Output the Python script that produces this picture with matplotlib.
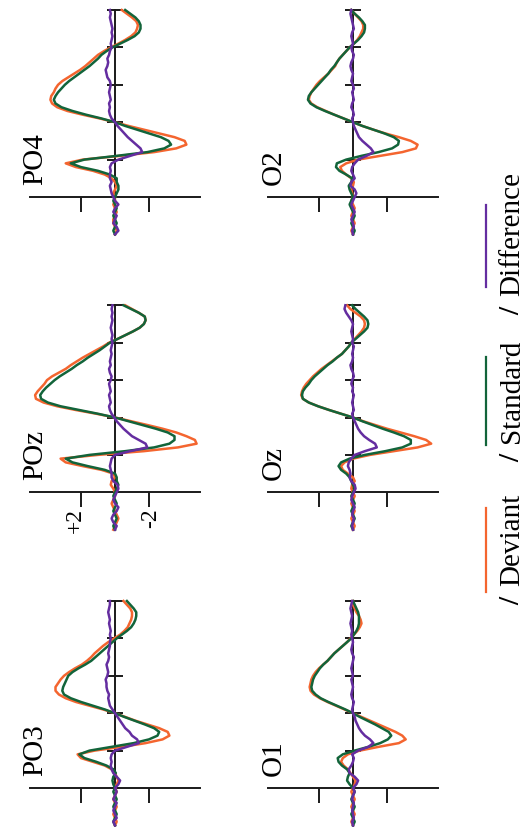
import numpy as np
import matplotlib
matplotlib.use('Agg')
import matplotlib.pyplot as plt

plt.rcParams['font.family'] = ['Liberation Serif', 'DejaVu Serif']

# time in ms, amplitude in microvolts (positive drawn to the left)
times = np.arange(-100, 501, 10)

dev_po4 = [0.0, -0.1, 0.0, 0.1, 0.1, 0.0, -0.1, 0.0, 0.1, 0.0,
           0.0, 0.1, 0.0, -0.1, 0.0, 0.2, 0.6, 1.3, 2.3, 2.9,
           1.9, -0.3, -2.3, -3.6, -4.2, -4.1, -3.5, -2.6, -1.7, -0.8,
           0.0, 0.9, 1.9, 2.8, 3.4, 3.7, 3.8, 3.75, 3.6, 3.5,
           3.35, 3.1, 2.75, 2.4, 2.05, 1.75, 1.5, 1.25, 1.0, 0.65,
           0.25, -0.2, -0.6, -0.95, -1.2, -1.3, -1.35, -1.25, -1.0, -0.7,
           -0.4]
std_po4 = [0.0, 0.1, 0.0, -0.1, 0.0, 0.1, 0.0, -0.1, 0.0, 0.1,
           0.0, -0.1, -0.2, -0.2, -0.1, -0.1, 0.3, 1.0, 2.0, 2.6,
           1.8, -0.1, -1.9, -2.9, -3.3, -3.15, -2.7, -2.0, -1.3, -0.6,
           0.0, 0.8, 1.7, 2.5, 3.15, 3.5, 3.6, 3.5, 3.35, 3.15,
           2.95, 2.7, 2.4, 2.1, 1.8, 1.5, 1.25, 1.0, 0.8, 0.5,
           0.15, -0.3, -0.75, -1.15, -1.4, -1.5, -1.5, -1.4, -1.2, -0.9,
           -0.6]
dif_po4 = [0.0, -0.2, -0.1, 0.1, 0.0, -0.1, 0.1, 0.0, -0.2, 0.0,
           0.1, 0.2, 0.25, 0.3, 0.2, 0.3, 0.3, 0.25, 0.3, 0.2,
           -0.2, -0.9, -1.6, -1.5, -1.25, -1.0, -0.75, -0.55, -0.35, -0.15,
           0.0, 0.2, 0.3, 0.35, 0.3, 0.35, 0.25, 0.3, 0.35, 0.3,
           0.25, 0.3, 0.45, 0.5, 0.55, 0.45, 0.4, 0.45, 0.35, 0.3,
           0.2, 0.25, 0.2, 0.15, 0.2, 0.15, 0.2, 0.25, 0.3, 0.25,
           0.3]

dev_poz = [0.1, 0.0, -0.1, -0.2, -0.1, 0.0, 0.1, 0.2, 0.1, 0.0,
           0.0, 0.1, 0.25, 0.2, 0.0, 0.1, 0.8, 1.9, 2.9, 3.2,
           1.0, -1.7, -3.7, -4.8, -4.7, -4.2, -3.6, -2.8, -1.9, -0.95,
           0.0, 1.1, 2.3, 3.4, 4.2, 4.65, 4.7, 4.55, 4.35, 4.15,
           4.0, 3.7, 3.3, 2.9, 2.6, 2.25, 1.9, 1.5, 1.1, 0.7,
           0.35, -0.15, -0.6, -1.05, -1.45, -1.7, -1.8, -1.75, -1.4, -1.0,
           -0.6]
std_poz = [0.0, 0.1, 0.0, -0.1, 0.0, 0.1, 0.0, -0.1, 0.0, 0.1,
           0.0, -0.1, -0.2, -0.1, -0.1, 0.0, 0.6, 1.6, 2.5, 2.9,
           1.5, -0.6, -2.3, -3.2, -3.5, -3.5, -3.1, -2.4, -1.6, -0.8,
           0.0, 1.0, 2.1, 3.2, 3.95, 4.35, 4.4, 4.25, 4.05, 3.8,
           3.55, 3.25, 2.9, 2.55, 2.25, 1.9, 1.6, 1.25, 0.9, 0.6,
           0.3, -0.15, -0.6, -1.05, -1.45, -1.7, -1.8, -1.75, -1.4, -0.95,
           -0.5]
dif_poz = [0.0, -0.1, 0.1, 0.2, 0.1, -0.1, -0.2, 0.0, 0.1, 0.0,
           -0.1, -0.2, -0.15, 0.1, 0.2, 0.2, 0.25, 0.3, 0.25, 0.2,
           0.0, -0.9, -1.9, -1.8, -1.4, -1.0, -0.75, -0.5, -0.3, -0.1,
           0.05, 0.2, 0.3, 0.35, 0.25, 0.3, 0.35, 0.25, 0.3, 0.35,
           0.25, 0.2, 0.3, 0.35, 0.25, 0.3, 0.25, 0.2, 0.25, 0.2,
           0.15, 0.2, 0.15, 0.2, 0.25, 0.2, 0.15, 0.2, 0.15, 0.2,
           0.15]

dev_po3 = [0.0, -0.1, 0.0, 0.1, 0.0, -0.1, 0.0, 0.1, 0.0, -0.1,
           0.0, -0.1, -0.2, -0.1, 0.0, 0.2, 0.6, 1.3, 2.0, 2.2,
           1.2, -0.4, -1.8, -2.8, -3.2, -3.1, -2.6, -1.9, -1.2, -0.6,
           0.0, 0.7, 1.5, 2.3, 2.9, 3.3, 3.5, 3.5, 3.35, 3.2,
           3.0, 2.7, 2.35, 1.95, 1.65, 1.4, 1.2, 0.95, 0.7, 0.4,
           0.05, -0.3, -0.55, -0.75, -0.85, -0.95, -1.0, -1.0, -0.9, -0.7,
           -0.5]
std_po3 = [0.0, 0.1, 0.0, -0.1, 0.0, 0.1, 0.0, -0.1, 0.0, 0.1,
           0.0, 0.1, 0.15, 0.1, -0.05, 0.1, 0.5, 1.1, 1.8, 2.1,
           1.5, 0.2, -1.1, -2.0, -2.5, -2.6, -2.3, -1.75, -1.15, -0.55,
           0.0, 0.6, 1.3, 2.0, 2.6, 3.0, 3.1, 3.05, 2.95, 2.85,
           2.75, 2.5, 2.15, 1.75, 1.4, 1.15, 0.9, 0.65, 0.4, 0.15,
           -0.1, -0.4, -0.7, -0.95, -1.1, -1.2, -1.25, -1.25, -1.1, -0.9,
           -0.7]
dif_po3 = [0.0, 0.1, -0.1, 0.0, 0.1, 0.0, -0.1, 0.1, 0.0, -0.1,
           0.0, -0.2, -0.3, -0.1, 0.1, 0.2, 0.25, 0.2, 0.25, 0.2,
           0.0, -0.7, -1.4, -1.3, -1.0, -0.85, -0.6, -0.45, -0.3, -0.15,
           0.0, 0.15, 0.3, 0.35, 0.4, 0.35, 0.45, 0.5, 0.5, 0.55,
           0.45, 0.4, 0.45, 0.5, 0.4, 0.35, 0.4, 0.35, 0.3, 0.3,
           0.25, 0.3, 0.25, 0.3, 0.35, 0.3, 0.35, 0.4, 0.35, 0.3,
           0.3]

dev_o2 = [0.0, 0.1, 0.0, -0.1, 0.0, 0.1, 0.0, -0.1, 0.0, 0.1,
          0.0, 0.05, 0.1, 0.0, -0.05, 0.1, 0.4, 0.65, 0.75, 0.4,
          -0.3, -1.6, -2.9, -3.7, -3.8, -3.4, -2.7, -1.9, -1.2, -0.55,
          0.0, 0.55, 1.1, 1.6, 2.1, 2.45, 2.6, 2.55, 2.45, 2.3,
          2.15, 1.95, 1.7, 1.45, 1.25, 1.05, 0.95, 0.8, 0.6, 0.4,
          0.2, -0.05, -0.25, -0.4, -0.5, -0.6, -0.6, -0.5, -0.3, -0.1,
          0.1]
std_o2 = [0.0, -0.1, 0.0, 0.1, 0.0, -0.1, 0.0, 0.1, 0.2, 0.1,
          0.0, 0.1, 0.2, 0.25, 0.1, 0.05, 0.4, 0.8, 1.0, 0.95,
          0.4, -0.5, -1.5, -2.3, -2.65, -2.7, -2.4, -1.85, -1.2, -0.55,
          0.0, 0.55, 1.1, 1.65, 2.15, 2.5, 2.65, 2.6, 2.45, 2.25,
          2.05, 1.85, 1.65, 1.45, 1.3, 1.1, 0.95, 0.8, 0.6, 0.4,
          0.2, -0.05, -0.3, -0.5, -0.65, -0.7, -0.7, -0.55, -0.35, -0.1,
          0.1]
dif_o2 = [0.0, 0.05, -0.05, 0.0, 0.1, 0.0, -0.1, 0.0, 0.1, 0.0,
          -0.1, -0.2, -0.1, 0.15, 0.1, -0.1, 0.0, 0.1, 0.05, -0.1,
          -0.3, -0.8, -1.2, -1.05, -0.8, -0.55, -0.35, -0.25, -0.15, -0.05,
          0.0, 0.05, -0.05, 0.0, 0.1, 0.05, -0.05, 0.0, 0.05, -0.05,
          0.0, 0.1, 0.05, 0.0, 0.1, 0.15, 0.1, 0.0, -0.05, 0.05,
          0.1, 0.0, 0.05, 0.1, 0.05, -0.05, 0.0, 0.05, 0.1, 0.15,
          0.1]

dev_oz = [0.0, -0.1, 0.0, 0.1, 0.0, -0.1, 0.0, 0.1, 0.0, -0.1,
          0.0, 0.1, 0.05, -0.1, 0.0, 0.3, 0.6, 0.7, 0.5, 0.0,
          -1.0, -2.4, -3.8, -4.6, -4.3, -3.6, -2.8, -2.0, -1.3, -0.6,
          0.0, 0.7, 1.4, 2.05, 2.6, 2.95, 3.05, 3.0, 2.9, 2.75,
          2.55, 2.35, 2.1, 1.85, 1.55, 1.25, 0.95, 0.65, 0.45, 0.25,
          0.1, -0.1, -0.3, -0.5, -0.65, -0.7, -0.65, -0.45, -0.15, 0.15,
          0.35]
std_oz = [0.0, 0.1, 0.0, -0.1, 0.0, 0.1, 0.0, -0.1, 0.0, 0.1,
          0.0, -0.1, 0.0, 0.1, 0.2, 0.4, 0.7, 0.85, 0.7, 0.2,
          -0.7, -1.9, -2.9, -3.4, -3.4, -3.0, -2.4, -1.75, -1.15, -0.55,
          0.0, 0.7, 1.4, 2.05, 2.6, 2.95, 3.0, 2.95, 2.8, 2.6,
          2.45, 2.25, 2.0, 1.75, 1.5, 1.2, 0.95, 0.65, 0.45, 0.25,
          0.1, -0.15, -0.4, -0.65, -0.85, -0.9, -0.85, -0.65, -0.4, -0.15,
          0.05]
dif_oz = [0.0, 0.05, 0.0, -0.05, 0.05, 0.0, -0.1, 0.0, 0.1, 0.05,
          -0.05, -0.15, -0.1, 0.1, 0.2, 0.15, 0.2, 0.3, 0.25, 0.1,
          -0.1, -0.7, -1.4, -1.3, -0.95, -0.65, -0.45, -0.3, -0.2, -0.1,
          0.0, 0.05, -0.05, 0.0, 0.05, 0.0, -0.05, 0.05, 0.0, 0.1,
          0.05, -0.05, 0.0, 0.1, 0.15, 0.05, 0.0, 0.05, 0.0, -0.05,
          0.05, 0.0, 0.05, 0.1, 0.05, 0.0, 0.1, 0.25, 0.4, 0.5,
          0.45]

dev_o1 = [0.0, 0.1, 0.0, -0.1, 0.0, 0.1, 0.0, -0.1, 0.0, 0.1,
          0.0, -0.1, -0.15, 0.0, 0.15, 0.3, 0.55, 0.7, 0.6, 0.3,
          -0.4, -1.5, -2.7, -3.1, -2.9, -2.5, -2.0, -1.5, -1.0, -0.5,
          0.0, 0.5, 1.0, 1.5, 1.95, 2.3, 2.5, 2.55, 2.5, 2.45,
          2.35, 2.2, 2.0, 1.75, 1.5, 1.3, 1.1, 0.85, 0.6, 0.35,
          0.15, -0.05, -0.25, -0.4, -0.5, -0.45, -0.35, -0.2, -0.1, 0.0,
          0.0]
std_o1 = [0.0, -0.1, 0.0, 0.1, 0.0, -0.1, 0.0, 0.1, 0.0, -0.1,
          0.0, 0.2, 0.35, 0.3, 0.2, 0.35, 0.65, 0.85, 0.9, 0.6,
          -0.1, -0.9, -1.6, -2.05, -2.25, -2.1, -1.7, -1.3, -0.85, -0.4,
          0.0, 0.45, 0.95, 1.45, 1.9, 2.2, 2.4, 2.45, 2.4, 2.35,
          2.25, 2.1, 1.95, 1.75, 1.5, 1.3, 1.1, 0.85, 0.6, 0.35,
          0.1, -0.05, -0.2, -0.3, -0.35, -0.35, -0.35, -0.3, -0.2, -0.1,
          0.0]
dif_o1 = [0.0, 0.05, -0.05, 0.0, 0.05, 0.0, -0.05, 0.05, 0.0, -0.1,
          0.0, -0.2, -0.3, -0.1, 0.2, 0.25, 0.1, 0.0, -0.05, 0.05,
          -0.3, -0.9, -1.2, -1.0, -0.7, -0.5, -0.35, -0.25, -0.15, -0.1,
          0.0, 0.05, 0.0, -0.05, 0.05, 0.1, 0.05, 0.0, 0.05, 0.1,
          0.0, 0.05, 0.1, 0.05, 0.0, -0.05, 0.05, 0.1, 0.05, 0.0,
          0.05, 0.1, 0.05, 0.1, 0.15, 0.1, 0.05, 0.1, 0.15, 0.1,
          0.05]

channels = ['PO4', 'POz', 'PO3', 'O2', 'Oz', 'O1']
deviant = [dev_po4, dev_poz, dev_po3, dev_o2, dev_oz, dev_o1]
standard = [std_po4, std_poz, std_po3, std_o2, std_oz, std_o1]
difference = [dif_po4, dif_poz, dif_po3, dif_o2, dif_oz, dif_o1]

series_names = ['Deviant', 'Standard', 'Difference']
colors = ['#F4652F', '#12643A', '#642DA0']

W, H = 526, 827
fig = plt.figure(figsize=(W / 100, H / 100), dpi=100)

col_left = [30, 268]          # px, left edge (+5 uV)
row_top = [10, 305.3, 601]    # px, 500 ms
px_per_ms = 0.374
ax_w = 170
ax_h = 600 * px_per_ms

for i, ch in enumerate(channels):
    col, row = i // 3, i % 3
    left = col_left[col] / W
    bottom = 1 - (row_top[row] + ax_h) / H
    ax = fig.add_axes([left, bottom, ax_w / W, ax_h / H])
    ax.patch.set_visible(False)

    for vals, c in zip([deviant[i], standard[i], difference[i]], colors):
        ax.plot(vals, times, color=c, lw=1.8, zorder=3, clip_on=False,
                solid_joinstyle='round')

    ax.set_xlim(5, -5)
    ax.set_ylim(-100, 500)

    for s in ['top', 'right']:
        ax.spines[s].set_visible(False)
    ax.spines['left'].set_position(('data', 0))
    ax.spines['left'].set_bounds(0, 500)
    ax.spines['bottom'].set_position(('data', 0))
    ax.spines['bottom'].set_bounds(-5, 5)
    for s in ['left', 'bottom']:
        ax.spines[s].set_linewidth(1.4)
        ax.spines[s].set_color('#1a1a1a')

    ax.set_yticks([100, 200, 300, 400, 500])
    ax.set_yticklabels([])
    ax.set_xticks([2, -2])
    ax.set_xticklabels([])
    ax.tick_params(axis='y', direction='inout', length=11.5, width=1.4, color='#1a1a1a')
    ax.tick_params(axis='x', direction='out', length=10.8, width=1.4, color='#1a1a1a')

    ax.text(4.27, 33, ch, rotation=90, rotation_mode='anchor',
            ha='left', va='baseline', fontsize=21)

    if ch == 'POz':
        ax.text(2.0, -42, '+2', rotation=90, rotation_mode='anchor',
                ha='right', va='baseline', fontsize=17)
        ax.text(-2.4, -42, '-2', rotation=90, rotation_mode='anchor',
                ha='right', va='baseline', fontsize=17)

# legend, drawn in pixel coordinates of the rotated page
lax = fig.add_axes([0, 0, 1, 1])
lax.set_xlim(0, W)
lax.set_ylim(H, 0)
lax.axis('off')

leg_line = [(508, 592), (357, 445), (205, 287)]
leg_slash = [605, 462, 315]
for name, c, (y0, y1), ys in zip(series_names, colors, leg_line, leg_slash):
    lax.plot([486, 486], [y0, y1], color=c, lw=1.6)
    lax.text(519, ys, '/', rotation=90, rotation_mode='anchor',
             ha='left', va='baseline', fontsize=21, fontweight='bold')
    lax.text(519, ys - 19, name, rotation=90, rotation_mode='anchor',
             ha='left', va='baseline', fontsize=21)

fig.savefig('out.png', dpi=100)
